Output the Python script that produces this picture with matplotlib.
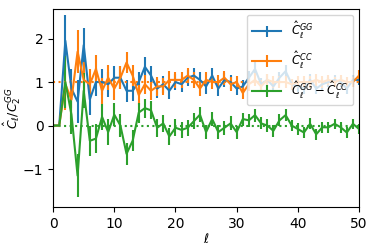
import matplotlib
matplotlib.use("Agg")
import matplotlib.pyplot as plt
import numpy as np

ell = np.arange(0, 51)

c_gg = [0, 0, 1.95, 0.85, 0.55, 1.85, 0.6, 1.0, 1.0, 0.95,
        1.1, 1.1, 0.8, 0.8, 1.0, 1.35, 1.15, 0.85, 0.95, 0.8,
        1.0, 0.95, 1.1, 1.15, 1.05, 0.9, 1.15, 0.85, 1.05, 1.0,
        0.85, 0.9, 1.1, 1.3, 0.95, 1.05, 0.9, 1.1, 1.25, 0.95,
        0.9, 0.85, 1.05, 0.85, 0.95, 1.0, 1.05, 1.0, 0.85, 1.05,
        1.05]
c_cc = [0, 0, 0.95, 0.6, 1.7, 1.05, 0.95, 1.3, 0.8, 1.1,
        0.85, 1.1, 1.45, 1.15, 0.7, 0.95, 0.8, 0.9, 0.9, 1.05,
        1.05, 1.05, 1.15, 1.05, 0.85, 1.05, 1.0, 1.0, 1.1, 0.95,
        1.0, 0.75, 0.95, 1.05, 0.9, 1.05, 1.0, 1.0, 1.0, 0.95,
        1.0, 1.0, 1.0, 1.05, 1.0, 1.05, 1.0, 1.05, 1.0, 1.0,
        1.15]
c_diff = [0, 0, 1.0, 0.25, -1.15, 0.8, -0.35, -0.3, 0.2, -0.15,
          0.25, 0.0, -0.65, -0.35, 0.3, 0.4, 0.35, -0.05, 0.05, -0.25,
          -0.05, -0.1, -0.05, 0.1, 0.25, -0.15, 0.15, -0.15, -0.05, 0.05,
          -0.15, 0.15, 0.12, 0.24, 0.05, 0.0, -0.12, 0.12, 0.24, 0.0,
          -0.08, -0.16, 0.04, -0.2, -0.04, -0.04, 0.04, -0.04, -0.16, 0.04,
          -0.08]
err = [0, 0, 0.6, 0.45, 0.5, 0.4, 0.35, 0.33, 0.3, 0.29,
       0.27, 0.26, 0.25, 0.24, 0.23, 0.22, 0.21, 0.21, 0.2, 0.2,
       0.19, 0.19, 0.18, 0.18, 0.17, 0.17, 0.17, 0.16, 0.16, 0.16,
       0.15, 0.15, 0.15, 0.15, 0.14, 0.14, 0.14, 0.14, 0.14, 0.13,
       0.13, 0.13, 0.13, 0.13, 0.13, 0.12, 0.12, 0.12, 0.12, 0.12,
       0.12]

fig = plt.figure(figsize=(3.74, 2.49), dpi=100)
ax = fig.add_axes([0.142, 0.169, 0.818, 0.795])

ax.errorbar(ell, c_gg, yerr=err, label=r'$\hat{C}_\ell^{GG}$')
ax.errorbar(ell, c_cc, yerr=err, label=r'$\hat{C}_\ell^{CC}$')
ax.errorbar(ell, c_diff, yerr=err, label=r'$\hat{C}_\ell^{GG}-\hat{C}_\ell^{CC}$')
ax.axhline(1, color='C1', ls=':')
ax.axhline(0, color='C2', ls=':')

ax.set_xlim(0, 50)
ax.set_ylim(-1.87, 2.68)
ax.set_xlabel(r'$\ell$', fontsize=9, labelpad=1)
ax.set_ylabel(r'$\hat{C}_\ell/C_2^{GG}$', fontsize=9, labelpad=0)
ax.legend(loc='upper right', fontsize=8.5, handlelength=2.5, labelspacing=0.7)

fig.savefig('out.png')
